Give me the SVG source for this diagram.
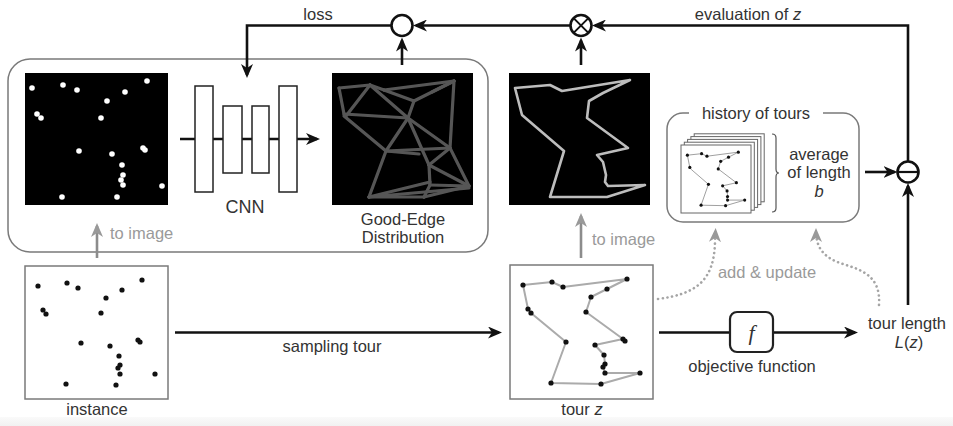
<svg xmlns="http://www.w3.org/2000/svg" width="953" height="426" viewBox="0 0 953 426">
  <style>
    text { font-family: "Liberation Sans", Arial, sans-serif; font-size: 16.5px; fill: #333; }
    .mid { text-anchor: middle; }
    .grey { fill: #9a9a9a; }
    .it { font-style: italic; }
    .conn { fill: none; stroke: #111; stroke-width: 2.6; }
    .gconn { fill: none; stroke: #8c8c8c; stroke-width: 2.6; }
    .dots { fill: none; stroke: #a5a5a5; stroke-width: 2.6; stroke-linecap: round; stroke-dasharray: 0.1 4.6; }
    .frame { fill: none; stroke: #7a7a7a; stroke-width: 1.5; }
    .black { fill: #000; }
    .wdot { fill: #fff; }
    .kdot { fill: #111; }
    .op { fill: #fff; stroke: #111; stroke-width: 2.6; }
    .layer { fill: #fff; stroke: #222; stroke-width: 1.5; }
    .edge { stroke: #666; stroke-width: 3.2; stroke-linecap: round; opacity: 0.85; }
    .page { fill: #fff; stroke: #666; stroke-width: 1; }
  </style>
  <defs>
    <marker id="arrowK" markerUnits="userSpaceOnUse" viewBox="0 0 14 12" markerWidth="14" markerHeight="12" refX="11" refY="6" orient="auto">
      <path d="M0,0 L14,6 L0,12 L4,6 z" fill="#111"/>
    </marker>
    <marker id="arrowG" markerUnits="userSpaceOnUse" viewBox="0 0 14 12" markerWidth="14" markerHeight="12" refX="11" refY="6" orient="auto">
      <path d="M0,0 L14,6 L0,12 L4,6 z" fill="#999"/>
    </marker>
    <linearGradient id="floor" x1="0" y1="0" x2="0" y2="1">
      <stop offset="0" stop-color="#fafafa"/>
      <stop offset="1" stop-color="#f1f1f1"/>
    </linearGradient>
    <filter id="soft" x="-5%" y="-5%" width="110%" height="110%">
      <feGaussianBlur stdDeviation="0.6"/>
    </filter>
  </defs>

  <rect width="953" height="426" fill="#fff"/>
  <rect x="0" y="417" width="953" height="9" fill="url(#floor)"/>

  <!-- learning panel -->
  <g id="panel">
    <rect class="frame" x="8" y="59" width="480" height="193" rx="22"/>
  </g>

  <!-- rasterised instance -->
  <g id="instance-image">
    <rect class="black" x="25" y="73" width="143" height="132"/>
    <g class="wdot">
      <circle cx="32" cy="88" r="2.8"/><circle cx="63" cy="85" r="2.8"/><circle cx="77" cy="90" r="2.8"/>
      <circle cx="147" cy="81" r="2.8"/><circle cx="125" cy="92" r="2.8"/><circle cx="107" cy="101" r="2.8"/>
      <circle cx="37" cy="114" r="2.8"/><circle cx="41" cy="118" r="2.8"/><circle cx="101" cy="118" r="2.8"/>
      <circle cx="79" cy="151" r="2.8"/><circle cx="112" cy="154" r="2.8"/><circle cx="143" cy="148" r="2.8"/>
      <circle cx="145" cy="150" r="2.8"/><circle cx="122" cy="165" r="2.8"/><circle cx="123" cy="175" r="2.8"/>
      <circle cx="121" cy="180" r="2.8"/><circle cx="123" cy="185" r="2.8"/><circle cx="162" cy="186" r="2.8"/>
      <circle cx="62" cy="197" r="2.8"/><circle cx="117" cy="197" r="2.8"/>
    </g>
  </g>

  <!-- CNN -->
  <g id="cnn">
    <path class="conn" d="M180,139 H317" marker-end="url(#arrowK)"/>
    <rect class="layer" x="195" y="86" width="18" height="106"/>
    <rect class="layer" x="223" y="106" width="19" height="67"/>
    <rect class="layer" x="252" y="106" width="17" height="67"/>
    <rect class="layer" x="279" y="86" width="18" height="106"/>
    <text class="mid" x="245" y="213" style="font-size: 18px;">CNN</text>
  </g>

  <!-- good-edge distribution heat map -->
  <g id="good-edge">
    <rect class="black" x="332" y="73" width="141" height="132"/>
    <g class="edge" filter="url(#soft)">
      <line x1="339" y1="88" x2="370" y2="85"/>
      <line x1="339" y1="88" x2="344" y2="114"/>
      <line x1="370" y1="85" x2="346" y2="116"/>
      <line x1="370" y1="85" x2="384" y2="90"/>
      <line x1="384" y1="90" x2="454" y2="81"/>
      <line x1="384" y1="90" x2="414" y2="101"/>
      <line x1="414" y1="101" x2="454" y2="81"/>
      <line x1="432" y1="92" x2="454" y2="81"/>
      <line x1="370" y1="85" x2="408" y2="118"/>
      <line x1="344" y1="114" x2="408" y2="118"/>
      <line x1="344" y1="116" x2="386" y2="151"/>
      <line x1="408" y1="118" x2="386" y2="151"/>
      <line x1="414" y1="101" x2="408" y2="118"/>
      <line x1="408" y1="118" x2="429" y2="165"/>
      <line x1="454" y1="81" x2="450" y2="148"/>
      <line x1="408" y1="118" x2="450" y2="148"/>
      <line x1="386" y1="151" x2="450" y2="148"/>
      <line x1="386" y1="151" x2="419" y2="154"/>
      <line x1="386" y1="151" x2="369" y2="197"/>
      <line x1="450" y1="148" x2="469" y2="186"/>
      <line x1="450" y1="148" x2="429" y2="165"/>
      <line x1="429" y1="165" x2="430" y2="185"/>
      <line x1="429" y1="165" x2="469" y2="186"/>
      <line x1="430" y1="185" x2="469" y2="186"/>
      <line x1="369" y1="197" x2="430" y2="182"/>
      <line x1="369" y1="197" x2="424" y2="197"/>
      <line x1="430" y1="185" x2="424" y2="197"/>
      <line x1="424" y1="197" x2="469" y2="186"/>
      <line x1="369" y1="197" x2="469" y2="188"/>
    </g>
    <text class="mid" x="403" y="225">Good-Edge</text>
    <text class="mid" x="403" y="243">Distribution</text>
  </g>

  <!-- rasterised tour -->
  <g id="tour-image">
    <rect class="black" x="509" y="73" width="141" height="132"/>
    <polygon points="515,88 550,85 562,91 630,80 603,93 589,101 587,118 628,148 597,155 603,162 606,175 605,182 608,186 645,185 607,197 550,197 564,151 522,115" fill="none" stroke="#bdbdbd" stroke-width="2.6" stroke-linejoin="round"/>
  </g>

  <!-- history of tours -->
  <g id="history">
    <rect class="frame" x="667" y="113" width="192" height="109" rx="16"/>
    <rect x="689" y="106" width="134" height="14" fill="#fff"/>
    <text class="mid" x="756" y="119">history of tours</text>
    <rect class="page" x="694.2" y="133.8" width="70" height="68"/>
    <rect class="page" x="690.9" y="136.6" width="70" height="68"/>
    <rect class="page" x="687.6" y="139.4" width="70" height="68"/>
    <rect class="page" x="684.3" y="142.2" width="70" height="68"/>
    <rect class="page" x="681" y="145" width="70" height="68"/>
    <g transform="translate(681,145) scale(0.49,0.51) translate(-25,-266)">
      <polygon points="38,286 67,283 78,288 142,280 122,290 106,298 101,313 138,340 110,346 119,356 120,365 118,368 120,374 155,374 116,385 66,384 81,343 46,314 43,310" fill="none" stroke="#888" stroke-width="0.8" vector-effect="non-scaling-stroke"/>
      <g class="kdot">
        <circle cx="38" cy="286" r="3.2"/><circle cx="67" cy="283" r="3.2"/><circle cx="78" cy="288" r="3.2"/>
        <circle cx="142" cy="280" r="3.2"/><circle cx="122" cy="290" r="3.2"/><circle cx="106" cy="298" r="3.2"/>
        <circle cx="43" cy="310" r="3.2"/><circle cx="101" cy="313" r="3.2"/><circle cx="81" cy="343" r="3.2"/>
        <circle cx="110" cy="346" r="3.2"/><circle cx="138" cy="340" r="3.2"/><circle cx="119" cy="356" r="3.2"/>
        <circle cx="120" cy="367" r="3.2"/><circle cx="120" cy="374" r="3.2"/><circle cx="155" cy="374" r="3.2"/>
        <circle cx="66" cy="384" r="3.2"/><circle cx="116" cy="385" r="3.2"/>
      </g>
    </g>
    <path d="M772,134 q4,0 4,4 v31 q0,4 3,4 q-3,0 -3,4 v31 q0,4 -4,4" fill="none" stroke="#555" stroke-width="1.2"/>
    <text class="mid" x="819" y="160">average</text>
    <text class="mid" x="819" y="178">of length</text>
    <text class="mid it" x="819" y="197">b</text>
  </g>

  <!-- problem instance -->
  <g id="instance">
    <rect class="frame" x="25" y="266" width="143" height="133" fill="#fff"/>
    <g class="kdot">
      <circle cx="38" cy="286" r="2.6"/><circle cx="67" cy="283" r="2.6"/><circle cx="78" cy="288" r="2.6"/>
      <circle cx="142" cy="280" r="2.6"/><circle cx="122" cy="290" r="2.6"/><circle cx="106" cy="298" r="2.6"/>
      <circle cx="43" cy="310" r="2.6"/><circle cx="46" cy="314" r="2.6"/><circle cx="101" cy="313" r="2.6"/>
      <circle cx="81" cy="343" r="2.6"/><circle cx="110" cy="346" r="2.6"/><circle cx="138" cy="340" r="2.6"/>
      <circle cx="140" cy="342" r="2.6"/><circle cx="119" cy="356" r="2.6"/><circle cx="120" cy="365" r="2.6"/>
      <circle cx="118" cy="368" r="2.6"/><circle cx="120" cy="374" r="2.6"/><circle cx="155" cy="374" r="2.6"/>
      <circle cx="66" cy="384" r="2.6"/><circle cx="116" cy="385" r="2.6"/>
    </g>
    <text class="mid" x="97" y="415">instance</text>
  </g>

  <!-- sampled tour -->
  <g id="tour-z">
    <rect class="frame" x="510" y="265" width="143" height="134" fill="#fff"/>
    <g transform="translate(485,-1)">
      <polygon points="38,286 67,283 78,288 142,280 122,290 106,298 101,313 138,340 110,346 119,356 120,365 118,368 120,374 155,374 116,385 66,384 81,343 46,314 43,310" fill="none" stroke="#ababab" stroke-width="2" stroke-linejoin="round"/>
      <g class="kdot">
        <circle cx="38" cy="286" r="2.6"/><circle cx="67" cy="283" r="2.6"/><circle cx="78" cy="288" r="2.6"/>
        <circle cx="142" cy="280" r="2.6"/><circle cx="122" cy="290" r="2.6"/><circle cx="106" cy="298" r="2.6"/>
        <circle cx="43" cy="310" r="2.6"/><circle cx="46" cy="314" r="2.6"/><circle cx="101" cy="313" r="2.6"/>
        <circle cx="81" cy="343" r="2.6"/><circle cx="110" cy="346" r="2.6"/><circle cx="138" cy="340" r="2.6"/>
        <circle cx="140" cy="342" r="2.6"/><circle cx="119" cy="356" r="2.6"/><circle cx="120" cy="365" r="2.6"/>
        <circle cx="118" cy="368" r="2.6"/><circle cx="120" cy="374" r="2.6"/><circle cx="155" cy="374" r="2.6"/>
        <circle cx="66" cy="384" r="2.6"/><circle cx="116" cy="385" r="2.6"/>
      </g>
    </g>
    <text class="mid" x="582" y="415">tour <tspan class="it">z</tspan></text>
  </g>

  <!-- connectors -->
  <g id="connectors">
    <path class="conn" d="M391.5,25.5 H247 V75" marker-end="url(#arrowK)"/>
    <path class="conn" d="M402,65 V40.5" marker-end="url(#arrowK)"/>
    <path class="conn" d="M581,65 V40.5" marker-end="url(#arrowK)"/>
    <path class="conn" d="M570.5,25.5 H416" marker-end="url(#arrowK)"/>
    <path class="conn" d="M908,161.5 V25.5 H595" marker-end="url(#arrowK)"/>
    <path class="conn" d="M865,172 H894.5" marker-end="url(#arrowK)"/>
    <path class="conn" d="M908,305 V186" marker-end="url(#arrowK)"/>
    <path class="conn" d="M175,332.5 H499" marker-end="url(#arrowK)"/>
    <path class="conn" d="M659,332.5 H730"/>
    <path class="conn" d="M773,332.5 H855" marker-end="url(#arrowK)"/>
    <path class="gconn" d="M97,258 V226" marker-end="url(#arrowG)"/>
    <path class="gconn" d="M581,258 V216" marker-end="url(#arrowG)"/>
    <path class="dots" d="M658,299 C695,294 714,282 715,242 L715.5,231" marker-end="url(#arrowG)"/>
    <path class="dots" d="M879,305 C881,276 862,270 843,264 C824,258 816,248 816,231" marker-end="url(#arrowG)"/>
  </g>

  <!-- operators -->
  <g id="op-loss">
    <circle class="op" cx="402" cy="25.5" r="10.5"/>
  </g>
  <g id="op-times">
    <circle class="op" cx="581" cy="25.5" r="10.5"/>
    <path d="M573.6,18.1 L588.4,32.9 M588.4,18.1 L573.6,32.9" stroke="#111" stroke-width="2"/>
  </g>
  <g id="op-minus">
    <circle class="op" cx="908" cy="172" r="10.5"/>
    <path d="M897.5,172 H918.5" stroke="#111" stroke-width="2.2"/>
  </g>

  <!-- objective function -->
  <g id="objective">
    <rect x="730" y="312" width="43" height="40" rx="7" fill="#fff" stroke="#222" stroke-width="2.2"/>
    <text class="mid" x="751.5" y="340" style="font-family: 'Liberation Serif', 'Times New Roman', serif; font-style: italic; font-size: 22px;">f</text>
    <text class="mid" x="752" y="372">objective function</text>
  </g>

  <g id="tour-length">
    <text class="mid" x="907" y="329">tour length</text>
    <text class="mid" x="909" y="348"><tspan class="it">L</tspan>(<tspan class="it">z</tspan>)</text>
  </g>

  <!-- edge labels -->
  <g id="labels">
    <text class="mid" x="318" y="20">loss</text>
    <text class="mid" x="748" y="20">evaluation of <tspan class="it">z</tspan></text>
    <text class="grey" x="110" y="239">to image</text>
    <text class="grey" x="592" y="245">to image</text>
    <text class="mid grey" x="767" y="278">add &amp; update</text>
    <text class="mid" x="332" y="352">sampling tour</text>
  </g>
</svg>
